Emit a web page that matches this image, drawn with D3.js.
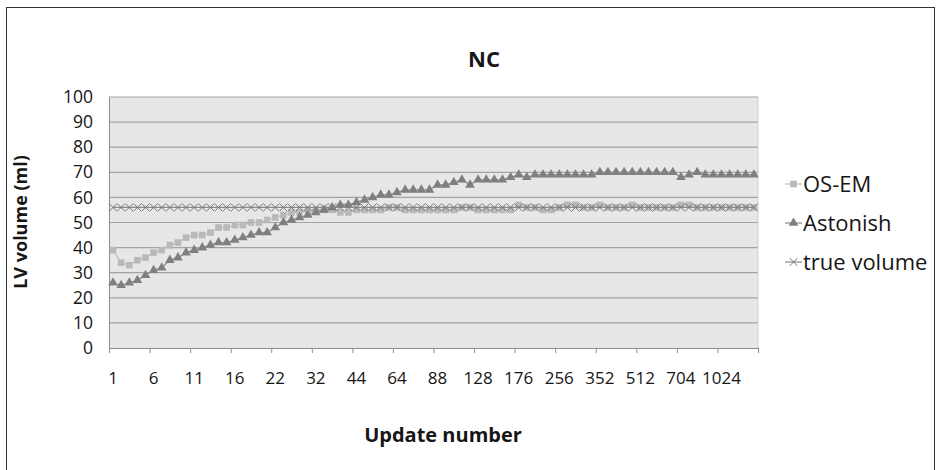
<!DOCTYPE html>
<html lang="en">
<head>
<meta charset="UTF-8">
<title>NC</title>
<script src="https://cdn.jsdelivr.net/npm/d3@7"></script>
<style>
    body { margin: 0; background: #fff; }
    svg text { font-family: "Open Sans", sans-serif; fill: #161616; }
    .grid line { stroke: #a3a3a3; stroke-width: 1.2; }
    .axis path, .axis line { stroke: #8c8c8c; }
</style>
</head>
<body>
<div id="chart"></div>
<script>
// update numbers (80 categories, labelled every 5th)
var updates = [1,2,3,4,5,6,7,8,9,10,11,12,13,14,15,16,17,18,19,20,
    22,24,26,28,30,32,34,36,38,40,44,48,52,56,60,64,68,72,76,80,
    88,96,104,112,120,128,136,144,152,160,176,192,208,224,240,256,272,288,304,320,
    352,384,416,448,480,512,544,576,608,640,704,768,832,896,960,1024,1088,1152,1216,1280];

var osem = [39,34,33,35,36,38,39,41,42,44,45,45,46,48,48,49,49,50,50,51,
    52,53,54,54,55,55,55,55,54,54,55,55,55,55,56,56,55,55,55,55,
    55,55,55,56,56,55,55,55,55,55,57,56,56,55,55,56,57,57,56,56,
    57,56,56,56,57,56,56,56,56,56,57,57,56,56,56,56,56,56,56,56];

var astonish = [26,25,26,27,29,31,32,35,36,38,39,40,41,42,42,43,44,45,46,46,
    48,50,51,52,53,54,55,56,57,57,58,59,60,61,61,62,63,63,63,63,
    65,65,66,67,65,67,67,67,67,68,69,68,69,69,69,69,69,69,69,69,
    70,70,70,70,70,70,70,70,70,70,68,69,70,69,69,69,69,69,69,69];

var trueVolume = updates.map(function() { return 56; });

var yTicks = [0,10,20,30,40,50,60,70,80,90,100];

var W = 949, H = 470;
var plot = {left: 109, right: 758, top: 97, bottom: 348};

var svg = d3.select("#chart").append("svg")
    .attr("width", W)
    .attr("height", H);

// outer frame
svg.append("rect")
    .attr("x", 6.5).attr("y", 7.5)
    .attr("width", 928).attr("height", 470)
    .attr("fill", "none")
    .attr("stroke", "#333")
    .attr("stroke-width", 1);

var x = d3.scaleBand()
    .domain(d3.range(updates.length))
    .range([plot.left, plot.right])
    .padding(0);

var xIdx = d3.scaleLinear()
    .domain([0, updates.length])
    .range([plot.left, plot.right]);

var y = d3.scaleLinear()
    .domain([0, 100])
    .range([plot.bottom, plot.top]);

function cx(d, i) { return x(i) + x.bandwidth() / 2; }

// plot background
svg.append("rect")
    .attr("x", plot.left).attr("y", plot.top)
    .attr("width", plot.right - plot.left)
    .attr("height", plot.bottom - plot.top)
    .attr("fill", "#e7e7e8");

// gridlines
svg.append("g")
    .attr("class", "grid")
    .selectAll("line")
    .data(yTicks.slice(1))
    .enter().append("line")
    .attr("x1", plot.left).attr("x2", plot.right)
    .attr("y1", function(d) { return y(d); })
    .attr("y2", function(d) { return y(d); });

// right edge of plot area
svg.append("line")
    .attr("x1", plot.right).attr("x2", plot.right)
    .attr("y1", plot.top).attr("y2", plot.bottom)
    .attr("stroke", "#d0d0d0");

// y axis
var yAxis = svg.append("g")
    .attr("class", "axis")
    .attr("transform", "translate(" + plot.left + ",0)")
    .call(d3.axisLeft(y).tickValues(yTicks).tickSize(0).tickPadding(16));
yAxis.select(".domain").attr("stroke", "#8c8c8c");
yAxis.selectAll("text").style("font-size", "17.5px");

// x tick marks every 5 categories
svg.append("g")
    .attr("class", "axis")
    .attr("transform", "translate(0," + plot.bottom + ")")
    .call(d3.axisBottom(xIdx)
        .tickValues(d3.range(0, updates.length + 1, 5))
        .tickSize(5)
        .tickFormat(""))
    .select(".domain").attr("stroke", "#8c8c8c");

// x labels
var xLabels = svg.append("g")
    .attr("transform", "translate(0," + plot.bottom + ")")
    .call(d3.axisBottom(x)
        .tickValues(d3.range(0, updates.length, 5))
        .tickSize(0)
        .tickPadding(24)
        .tickFormat(function(i) { return updates[i]; }));
xLabels.select(".domain").remove();
xLabels.selectAll("text").style("font-size", "17px");

// series
var series = [
    {name: "OS-EM", values: osem, color: "#b9b9b9", line: "#bdbdbd", marker: "square"},
    {name: "Astonish", values: astonish, color: "#7f7f7f", line: "#8a8a8a", marker: "triangle"},
    {name: "true volume", values: trueVolume, color: "#777", line: "#8a8a8a", marker: "cross"}
];

var symbols = {
    square: d3.symbol().type(d3.symbolSquare).size(44),
    triangle: d3.symbol().type(d3.symbolTriangle).size(40),
    cross: d3.symbol().type(d3.symbolX).size(40)
};

var line = d3.line()
    .x(cx)
    .y(function(d) { return y(d); });

series.forEach(function(s) {
    var g = svg.append("g");
    g.append("path")
        .datum(s.values)
        .attr("fill", "none")
        .attr("stroke", s.line)
        .attr("stroke-width", 1.2)
        .attr("d", line);
    g.selectAll("path.mark")
        .data(s.values)
        .enter().append("path")
        .attr("class", "mark")
        .attr("transform", function(d, i) { return "translate(" + cx(d, i) + "," + y(d) + ")"; })
        .attr("d", symbols[s.marker])
        .attr("fill", s.marker === "cross" ? "none" : s.color)
        .attr("stroke", s.marker === "cross" ? s.color : "none")
        .attr("stroke-width", 1);
});

// legend
var legend = svg.append("g")
    .attr("transform", "translate(785,184)");
series.forEach(function(s, i) {
    var lg = legend.append("g").attr("transform", "translate(0," + (i * 39) + ")");
    lg.append("line")
        .attr("x1", 0).attr("x2", 17)
        .attr("stroke", s.line).attr("stroke-width", 1.2);
    lg.append("path")
        .attr("transform", "translate(8.5,0)")
        .attr("d", symbols[s.marker])
        .attr("fill", s.marker === "cross" ? "none" : s.color)
        .attr("stroke", s.marker === "cross" ? s.color : "none");
    lg.append("text")
        .attr("x", 18).attr("dy", "0.35em")
        .style("font-size", "22px")
        .text(s.name);
});

// titles
svg.append("text")
    .attr("x", 484).attr("y", 67)
    .attr("text-anchor", "middle")
    .style("font-size", "22px").style("font-weight", "bold")
    .text("NC");

svg.append("text")
    .attr("transform", "translate(27,222) rotate(-90)")
    .attr("text-anchor", "middle")
    .style("font-size", "18px").style("font-weight", "bold")
    .text("LV volume (ml)");

svg.append("text")
    .attr("x", 443).attr("y", 442)
    .attr("text-anchor", "middle")
    .style("font-size", "20px").style("font-weight", "bold")
    .text("Update number");
</script>
</body>
</html>
